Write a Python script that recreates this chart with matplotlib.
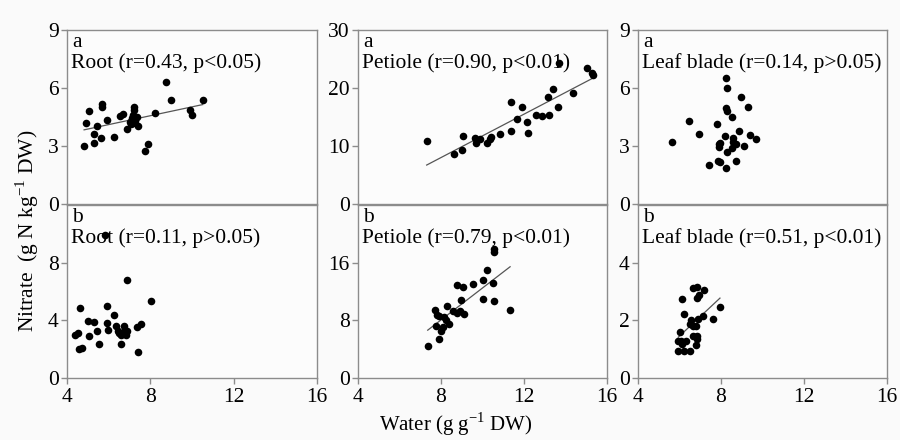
import numpy as np
import matplotlib
matplotlib.use("Agg")
import matplotlib.pyplot as plt

plt.rcParams['font.family'] = ['Liberation Serif', 'DejaVu Serif']
plt.rcParams['mathtext.fontset'] = 'custom'
plt.rcParams['mathtext.rm'] = 'Liberation Serif'
plt.rcParams['axes.unicode_minus'] = False

# panel a: root
root_a_x = [8.75, 8.98, 10.51, 9.90, 10.02, 8.22, 4.82, 5.31, 5.62, 5.30, 5.46, 4.90, 5.07, 5.68, 5.70, 5.90,
            6.27, 6.54, 6.70, 6.86, 7.02, 7.10, 7.18, 7.22, 7.22, 7.26, 7.35, 7.42, 7.18, 7.08, 7.74, 7.87]
root_a_y = [6.33, 5.38, 5.38, 4.86, 4.60, 4.72, 3.00, 3.14, 3.43, 3.62, 4.03, 4.17, 4.83, 5.16, 5.02, 4.34,
            3.45, 4.57, 4.67, 3.90, 4.26, 4.43, 4.60, 5.03, 4.86, 4.29, 4.52, 4.05, 4.17, 4.15, 2.74, 3.09]

# panel a: petiole
pet_a_x = [7.31, 8.64, 9.03, 9.08, 9.64, 9.69, 9.88, 10.23, 10.36, 10.39, 10.84, 11.37, 11.37, 11.89,
           11.68, 12.16, 12.21, 12.56, 12.88, 13.22, 13.17, 13.41, 13.62, 14.38, 13.70, 15.05, 15.26, 15.34]
pet_a_y = [10.9, 8.6, 9.3, 11.8, 11.4, 10.6, 11.2, 10.6, 11.2, 11.6, 12.0, 12.5, 17.5, 16.8,
           14.7, 14.2, 12.2, 15.3, 15.1, 15.3, 18.5, 19.8, 16.7, 19.2, 24.3, 23.4, 22.5, 22.2]

# panel a: leaf blade
leaf_a_x = [5.65, 6.47, 6.93, 7.79, 7.42, 7.84, 7.95, 7.92, 7.92, 7.95, 8.24, 8.30, 8.24, 8.27, 8.54,
            8.18, 8.24, 8.30, 8.56, 8.59, 8.52, 8.72, 8.71, 8.88, 8.96, 9.09, 9.30, 9.40, 9.69]
leaf_a_y = [3.19, 4.29, 3.62, 4.14, 2.00, 2.24, 2.19, 2.93, 3.09, 3.17, 6.53, 5.98, 4.95, 4.83, 4.48,
            3.53, 1.85, 2.71, 3.40, 3.22, 2.88, 3.10, 2.24, 3.79, 5.55, 2.98, 5.00, 3.58, 3.36]

# panel b: root
root_b_x = [5.82, 6.87, 8.02, 4.62, 5.93, 6.26, 5.02, 5.30, 5.93, 4.38, 4.54, 5.06, 5.43, 5.95, 6.35,
            6.46, 6.59, 6.74, 6.78, 6.87, 6.82, 7.35, 7.55, 4.59, 4.72, 5.55, 6.59, 7.42, 6.51]
root_b_y = [9.91, 6.79, 5.32, 4.88, 4.97, 4.40, 3.93, 3.88, 3.81, 3.00, 3.12, 2.93, 3.28, 3.35, 3.63,
            3.28, 3.00, 3.63, 3.35, 3.23, 3.00, 3.51, 3.72, 2.00, 2.07, 2.35, 2.37, 1.79, 3.12]

# panel b: petiole
pet_b_x = [10.55, 10.55, 10.20, 10.01, 10.52, 9.53, 8.79, 9.05, 10.04, 10.55, 8.95, 11.33, 8.27, 7.71,
           8.59, 8.76, 8.92, 9.11, 7.82, 7.90, 8.16, 8.24, 8.40, 7.74, 8.08, 8.00, 7.92, 7.36]
pet_b_y = [17.95, 17.54, 14.93, 13.53, 13.21, 12.98, 12.88, 12.66, 11.02, 10.65, 10.79, 9.39, 10.05, 9.49,
           9.35, 9.03, 9.25, 8.88, 8.70, 8.56, 8.47, 8.09, 7.53, 7.26, 7.02, 6.46, 5.40, 4.37]

# panel b: leaf blade
leaf_b_x = [6.64, 6.86, 7.18, 6.95, 6.86, 6.11, 7.95, 6.23, 7.12, 7.63, 6.88, 6.54, 6.51, 6.67, 6.80,
            6.02, 6.64, 6.86, 6.86, 5.94, 6.11, 6.30, 6.80, 5.94, 6.22, 6.51, 6.05]
leaf_b_y = [3.13, 3.16, 3.05, 2.87, 2.78, 2.74, 2.45, 2.22, 2.16, 2.06, 2.06, 2.00, 1.88, 1.79, 1.81,
            1.59, 1.44, 1.44, 1.36, 1.27, 1.19, 1.27, 1.15, 0.92, 0.92, 0.92, 1.27]

panels = [
    # row, col, x, y, letter, label, ylim, yticks, fit line
    (0, 0, root_a_x, root_a_y, 'a', 'Root (r=0.43, p<0.05)', 9, [0, 3, 6, 9], True),
    (0, 1, pet_a_x, pet_a_y, 'a', 'Petiole (r=0.90, p<0.01)', 30, [0, 10, 20, 30], True),
    (0, 2, leaf_a_x, leaf_a_y, 'a', 'Leaf blade (r=0.14, p>0.05)', 9, [0, 3, 6, 9], False),
    (1, 0, root_b_x, root_b_y, 'b', 'Root (r=0.11, p>0.05)', 12, [0, 4, 8], False),
    (1, 1, pet_b_x, pet_b_y, 'b', 'Petiole (r=0.79, p<0.01)', 24, [0, 8, 16], True),
    (1, 2, leaf_b_x, leaf_b_y, 'b', 'Leaf blade (r=0.51, p<0.01)', 6, [0, 2, 4], True),
]

x_ticks = [4, 8, 12, 16]

fig = plt.figure(figsize=(9, 4.4), dpi=100)
fig.set_facecolor('#fafafa')

lefts = [67 / 900, 358 / 900, 638 / 900]
widths = [250 / 900, 249 / 900, 249 / 900]
bottoms = [1 - 204 / 440, 1 - 378 / 440]
heights = [174 / 440, 173 / 440]

edge = '#8c8c8c'
fs = 15.5

for row, col, xs, ys, letter, label, ymax, yt, fit in panels:
    ax = fig.add_axes([lefts[col], bottoms[row], widths[col], heights[row]])
    ax.set_facecolor('#fcfcfc')
    xs = np.array(xs)
    ys = np.array(ys)
    ax.scatter(xs, ys, s=30, color='black', zorder=3, linewidths=0)
    if fit:
        k, b = np.polyfit(xs, ys, 1)
        xx = np.array([xs.min(), xs.max()])
        ax.plot(xx, k * xx + b, color='#555555', lw=0.9, zorder=2)

    ax.set_xlim(4, 16)
    ax.set_ylim(0, ymax)
    ax.set_yticks(yt)
    ax.set_xticks(x_ticks)
    for sp in ax.spines.values():
        sp.set_color(edge)
        sp.set_linewidth(1.0)
    ax.tick_params(axis='both', direction='out', length=4, width=1, color=edge,
                   labelsize=fs, pad=2)
    if row == 0:
        ax.tick_params(axis='x', bottom=False, labelbottom=False)
    else:
        ax.tick_params(axis='x', pad=3)

    ax.text(0.022, 0.985, letter, transform=ax.transAxes, fontsize=fs, va='top', ha='left')
    ax.text(0.016, 0.865, label, transform=ax.transAxes, fontsize=fs, va='top', ha='left')

fig.text(0.03, 0.475, 'Nitrate  (g N kg$^{-1}$ DW)', rotation=90, fontsize=fs,
         ha='center', va='center')
fig.text(0.507, 0.004, 'Water (g g$^{-1}$ DW)', fontsize=15, ha='center', va='bottom')

fig.savefig('out.png', dpi=100, facecolor=fig.get_facecolor())
